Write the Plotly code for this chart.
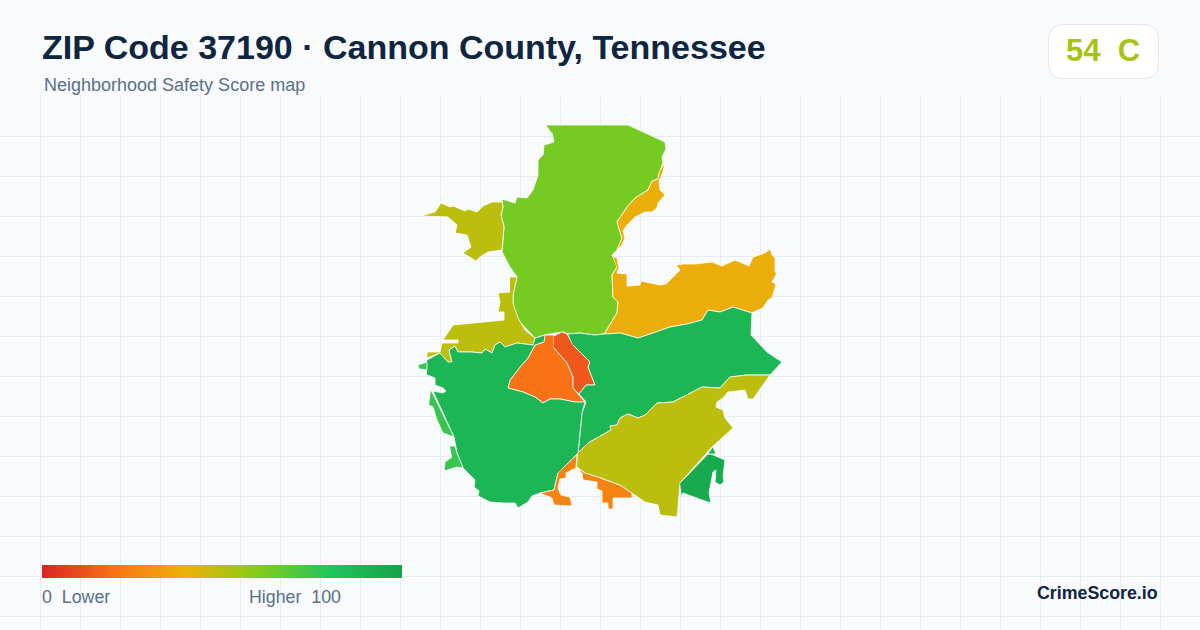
#!/usr/bin/env python3
"""ZIP 37190 neighborhood safety score map, drawn as filled polygons."""

import plotly.graph_objects as go
from plotly.colors import sample_colorscale

WIDTH = 1200
HEIGHT = 630
MAP_TOP = 95

# Score colour ramp, evenly spaced from 0 to 100
ramp_colors = ["#dc2626", "#f97316", "#eab308", "#84cc16", "#22c55e", "#16a34a"]
legend_scores = list(range(0, 101))

# Tract outlines
north = [(546,125),(628,125),(665,142),(666,149),(662,157),(663,163),(659,173),(658,179),(652,181),(648,190),
         (635,198),(627,207),(617,222),(620,232),(622,238),(617,250),(612,255),(617,267),(612,275),(613,297),
         (618,302),(617,313),(608,328),(604,334),(595,335),(580,333),(568,334),(563,332),(555,333),(545,335),
         (535,338),(518,320),(513,307),(513,295),(517,277),(510,267),(502,252),(504,227),(501,215),(503,207),
         (502,199),(515,203),(517,197),(527,198),(533,190),(538,175),(538,160),(543,155),(544,145),(554,142),
         (552,133)]
ne_strip = [(665,163),(663,172),(659,182),(660,190),(665,195),(658,203),(657,208),(652,212),(645,212),(635,217),
            (627,225),(623,231),(625,238),(622,245),(617,250),(622,238),(620,232),(617,222),(627,207),(635,198),
            (648,190),(652,181),(658,179),(659,173)]
east_amber = [(613,257),(617,258),(619,268),(617,273),(627,274),(627,286),(640,285),(641,281),(660,285),(666,284),
              (680,270),(676,265),(683,264),(695,264),(712,262),(722,266),(735,260),(749,266),(753,257),(765,253),
              (770,249),(772,255),(775,258),(775,272),(777,273),(772,282),(776,284),(772,298),(768,300),(763,308),
              (758,310),(752,313),(733,307),(720,312),(708,310),(702,320),(687,324),(670,327),(653,333),(638,338),
              (620,333),(604,334),(608,328),(617,313),(618,302),(613,297),(612,275),(617,267)]
nw_olive = [(424,215),(435,212),(441,203),(450,207),(453,206),(465,211),(468,209),(477,212),(483,206),(492,202),
            (502,202),(503,207),(501,215),(504,227),(502,250),(488,252),(480,257),(476,261),(463,253),(471,247),
            (467,235),(455,233),(457,225),(448,217),(424,216)]
west_olive = [(510,277),(517,277),(513,295),(513,303),(518,318),(525,330),(535,338),(533,345),(517,343),(505,347),
              (500,342),(495,345),(492,353),(485,349),(482,353),(472,352),(458,352),(455,346),(449,350),(452,362),
              (448,362),(440,353),(427,358),(427,352),(440,352),(442,343),(458,343),(458,340),(443,340),(453,325),
              (504,320),(504,312),(498,312),(500,302),(498,293),(510,292)]
center_orange = [(545,335),(554,335),(554,348),(567,363),(573,377),(573,388),(585,402),(575,402),(560,399),(550,399),
                 (543,403),(535,397),(523,392),(508,388),(510,380),(520,367),(528,358),(535,345),(544,342)]
center_red = [(554,336),(562,332),(567,334),(573,345),(590,362),(588,367),(595,385),(586,385),(579,394),(573,388),
              (573,377),(567,363),(554,348)]
east_green = [(568,334),(580,333),(595,335),(604,334),(620,333),(638,338),(653,333),(670,327),(687,324),(702,320),
              (708,310),(720,312),(733,307),(752,313),(751,335),(767,352),(782,362),(770,375),(747,375),(730,377),
              (720,388),(702,387),(673,402),(657,403),(645,415),(638,418),(628,414),(620,418),(617,425),(610,426),
              (611,430),(588,443),(578,453),(582,413),(586,402),(579,394),(586,385),(595,385),(588,367),(590,362),
              (573,345)]
west_green = [(427,360),(440,353),(448,362),(452,362),(449,350),(455,346),(458,352),(472,352),(482,353),(485,349),
              (492,353),(495,345),(500,342),(505,347),(517,343),(533,345),(535,338),(545,335),(544,342),(535,345),
              (528,358),(520,367),(510,380),(508,388),(523,392),(535,397),(543,403),(550,399),(560,399),(575,402),
              (585,402),(582,413),(578,453),(558,473),(554,490),(540,493),(532,496),(528,502),(518,508),(515,503),
              (503,503),(490,502),(478,496),(479,491),(474,487),(475,480),(463,468),(457,453),(454,437),(433,391),
              (443,393),(446,391),(443,388),(435,385),(435,378),(427,375)]
nw_speck = [(418,365),(427,362),(427,370),(420,369)]
sw_sliver = [(431,390),(454,437),(443,433),(437,420),(433,407),(429,405)]
sw_patch = [(450,446),(455,446),(457,453),(463,468),(457,467),(444,471),(445,462),(452,457)]
south_a = [(577,455),(576,468),(566,473),(566,478),(560,479),(558,488),(561,495),(570,497),(572,506),(554,505),
           (552,498),(540,493),(554,490),(558,473)]
south_b = [(578,468),(585,473),(598,477),(620,485),(632,493),(632,498),(613,498),(613,509),(608,509),(608,503),
           (602,503),(602,491),(597,489),(597,482),(583,480),(582,473)]
se_olive = [(578,453),(588,443),(611,430),(610,426),(617,425),(620,418),(628,414),(638,418),(645,415),(657,403),
            (673,402),(702,387),(720,388),(730,377),(747,375),(770,375),(753,399),(748,399),(745,390),(728,392),
            (723,398),(717,402),(716,407),(723,410),(725,418),(733,428),(712,447),(680,483),(678,507),(677,517),
            (660,515),(658,505),(645,502),(632,493),(620,485),(598,477),(585,473),(577,467)]
se_green = [(680,483),(708,454),(711,454),(725,460),(723,477),(724,482),(720,485),(715,482),(716,470),(713,472),
            (709,493),(711,503),(702,500),(693,497),(683,493),(682,497)]
se_speck = [(713,447),(716,454),(708,454)]

tract_shapes = [north, ne_strip, east_amber, nw_olive, west_olive, center_orange, center_red, east_green,
                west_green, nw_speck, sw_sliver, sw_patch, south_a, south_b, se_olive, se_green, se_speck]
tract_scores = [63, 38, 38, 49, 49, 20, 13, 89, 89, 76, 76, 76, 25, 25, 49, 96, 89]

GRID = "#e6edf2"
BG = "#f8fafc"
NAVY = "#0f2540"
SLATE = "#5b6f88"


def px(x):
    return x / WIDTH


def py(y):
    return (HEIGHT - y) / (HEIGHT - MAP_TOP)


def round_box(x0, y0, x1, y1, r):
    """Rounded rectangle path in paper coordinates"""
    pts = [("M", x0 + r, y0), ("L", x1 - r, y0), ("Q", x1, y0, x1, y0 + r), ("L", x1, y1 - r),
           ("Q", x1, y1, x1 - r, y1), ("L", x0 + r, y1), ("Q", x0, y1, x0, y1 - r), ("L", x0, y0 + r),
           ("Q", x0, y0, x0 + r, y0)]
    out = []
    for p in pts:
        vals = p[1:]
        coords = [f"{px(vals[i]):.5f},{py(vals[i + 1]):.5f}" for i in range(0, len(vals), 2)]
        out.append(p[0] + " ".join(coords))
    return " ".join(out) + " Z"


def label(fig, text, x, y, size, color, anchor="left", bold=False):
    family = "Liberation Sans, Arial, sans-serif"
    fig.add_annotation(
        text=f"<b>{text}</b>" if bold else text,
        x=px(x), y=py(y), xref="paper", yref="paper",
        xanchor=anchor, yanchor="middle", showarrow=False, borderpad=0,
        font=dict(family=family, size=size, color=color),
    )


fig = go.Figure()

for shape, score in zip(tract_shapes, tract_scores):
    xs = [p[0] for p in shape]
    ys = [p[1] for p in shape]
    color = sample_colorscale(ramp_colors, score / 100)[0]
    fig.add_trace(go.Scatter(
        x=xs, y=ys, mode="lines", fill="toself", fillcolor=color,
        line=dict(color="#ffffff", width=0.8), showlegend=False,
        hovertemplate=f"Score {score}<extra></extra>",
    ))

# Legend bar
fig.add_trace(go.Heatmap(
    z=[legend_scores], x0=42 + 1.78, dx=360 / 101, y0=571.5, dy=13,
    colorscale=sample_colorscale(ramp_colors, 6), zmin=0, zmax=100, showscale=False, hoverinfo="skip",
))

fig.add_shape(
    type="path", path=round_box(1048.5, 24.5, 1158.5, 78.5, 15), xref="paper", yref="paper",
    fillcolor="#ffffff", line=dict(color="#e2e8f0", width=1),
)

label(fig, "ZIP Code 37190 · Cannon County, Tennessee", 41, 47, 34, NAVY, bold=True)
label(fig, "Neighborhood Safety Score map", 43, 85, 18, SLATE)
label(fig, "54\u00a0\u00a0C", 1103, 51, 31, "#a6c312", anchor="center", bold=True)
label(fig, "0\u00a0\u00a0Lower", 41, 597, 17.8, SLATE)
label(fig, "Higher\u00a0\u00a0100", 248, 597, 17.8, SLATE)
label(fig, "CrimeScore.io", 1159, 593, 17.8, NAVY, anchor="right", bold=True)

fig.update_layout(
    width=WIDTH, height=HEIGHT,
    margin=dict(l=0, r=0, t=MAP_TOP, b=0),
    paper_bgcolor=BG, plot_bgcolor=BG,
    showlegend=False,
)
fig.update_xaxes(range=[0, WIDTH], tick0=0, dtick=40, showgrid=True, gridcolor=GRID, gridwidth=1,
                 zeroline=False, showticklabels=False, ticks="", showline=False)
fig.update_yaxes(range=[HEIGHT, MAP_TOP], tick0=96, dtick=40, showgrid=True, gridcolor=GRID, gridwidth=1,
                 zeroline=False, showticklabels=False, ticks="", showline=False)

# the page's default body margin would push the figure 8px off the corner
fig.write_html("out.html", config={"displayModeBar": False},
               post_script="document.body.style.margin='0';document.body.style.background='#f8fafc';")
